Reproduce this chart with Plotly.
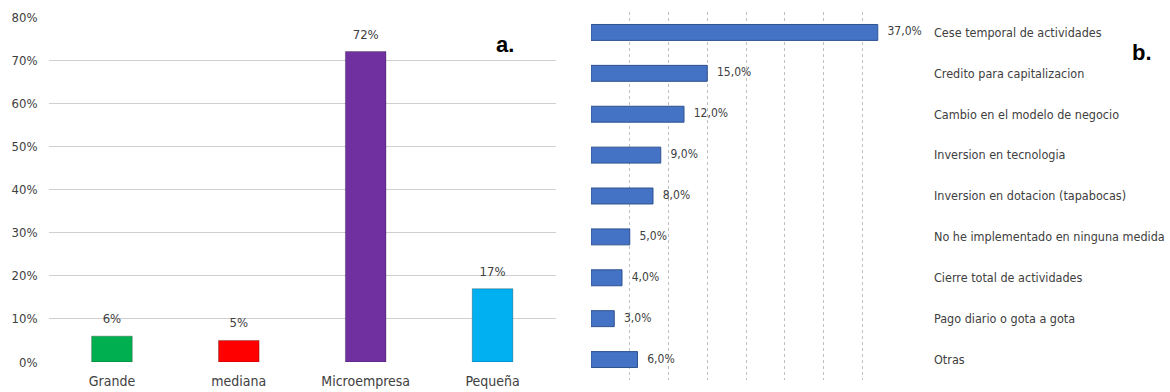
import plotly.graph_objects as go

# ---- data ----
size_cats = ["Grande", "mediana", "Microempresa", "Pequeña"]
size_vals = [6, 5, 72, 17]
size_colors = ["#00B050", "#FF0000", "#7030A0", "#00B0F0"]
size_ticks = [0, 10, 20, 30, 40, 50, 60, 70, 80]
size_tick_labels = ["0%", "10%", "20%", "30%", "40%", "50%", "60%", "70%", "80%"]

measure_cats = [
    "Cese temporal de actividades",
    "Credito para capitalizacion",
    "Cambio en el modelo de negocio",
    "Inversion en tecnologia",
    "Inversion en dotacion (tapabocas)",
    "No he implementado en ninguna medida",
    "Cierre total de actividades",
    "Pago diario o gota a gota",
    "Otras",
]
measure_vals = [37.0, 15.0, 12.0, 9.0, 8.0, 5.0, 4.0, 3.0, 6.0]

W, H = 1170, 392
FONT = "Liberation Sans Narrow, Arial Narrow, DejaVu Sans Condensed, sans-serif"

fig = go.Figure()

fig.add_trace(go.Bar(
    x=size_cats, y=size_vals,
    marker=dict(color=size_colors, line=dict(color="rgba(0,0,0,0.25)", width=1)),
    xaxis="x", yaxis="y", showlegend=False, width=0.32, hoverinfo="skip",
))
# value labels above the columns
fig.add_trace(go.Scatter(
    x=size_cats, y=size_vals, mode="markers+text",
    marker=dict(size=14, opacity=0),
    text=[f"{v}%" for v in size_vals], textposition="top center",
    textfont=dict(size=13, color="#404040", family=FONT),
    cliponaxis=False, xaxis="x", yaxis="y", showlegend=False, hoverinfo="skip",
))

fig.add_trace(go.Bar(
    x=measure_vals, y=measure_cats, orientation="h",
    marker=dict(color="#4472C4", line=dict(color="#2F528F", width=1)),
    xaxis="x2", yaxis="y2", showlegend=False, width=0.39, hoverinfo="skip",
))
fig.add_trace(go.Scatter(
    x=measure_vals, y=measure_cats, mode="markers+text",
    marker=dict(size=14, opacity=0),
    text=[f"{v:.1f}%".replace(".", ",") for v in measure_vals],
    textposition="middle right",
    textfont=dict(size=12, color="#404040", family=FONT),
    cliponaxis=False, xaxis="x2", yaxis="y2", showlegend=False, hoverinfo="skip",
))

n_size = len(size_cats)
n_meas = len(measure_cats)

fig.update_layout(
    width=W, height=H,
    margin=dict(l=0, r=0, t=0, b=0, autoexpand=False),
    paper_bgcolor="white", plot_bgcolor="white",
    font=dict(family=FONT, color="#404040"),
    xaxis=dict(domain=[48.5 / W, 556 / W], range=[-0.5, n_size - 0.5],
               showgrid=False, showline=False,
               ticks="", tickfont=dict(size=14, color="#404040"),
               ticklabelstandoff=9, anchor="y", automargin=False),
    yaxis=dict(domain=[30 / H, 375 / H], range=[0, 80],
               tickvals=size_ticks, ticktext=size_tick_labels,
               showgrid=True, gridcolor="#D0D0D0", gridwidth=1,
               zeroline=False, showline=False,
               tickfont=dict(size=13, color="#404040"),
               ticklabelstandoff=10, anchor="x", automargin=False),
    xaxis2=dict(domain=[591 / W, 901 / W], range=[0, 40], dtick=5,
                showgrid=True, gridcolor="#BFBFBF", griddash="dot", gridwidth=1,
                zeroline=False, showline=False, showticklabels=False,
                anchor="y2", automargin=False),
    yaxis2=dict(domain=[12 / H, 380 / H], range=[n_meas - 0.5, -0.5],
                side="right", showgrid=False, showline=False, ticks="",
                tickfont=dict(size=12.5, color="#404040"),
                ticklabelstandoff=32, anchor="x2", automargin=False),
    annotations=[
        dict(text="<b>a.</b>", x=505 / W, y=1 - 45 / H, xref="paper", yref="paper",
             xanchor="center", yanchor="middle",
             showarrow=False, font=dict(size=22, color="#000000", family="Liberation Sans, Arial")),
        dict(text="<b>b.</b>", x=1142 / W, y=1 - 52 / H, xref="paper", yref="paper",
             xanchor="center", yanchor="middle",
             showarrow=False, font=dict(size=22, color="#000000", family="Liberation Sans, Arial")),
    ],
)

fig.write_html("out.html")
